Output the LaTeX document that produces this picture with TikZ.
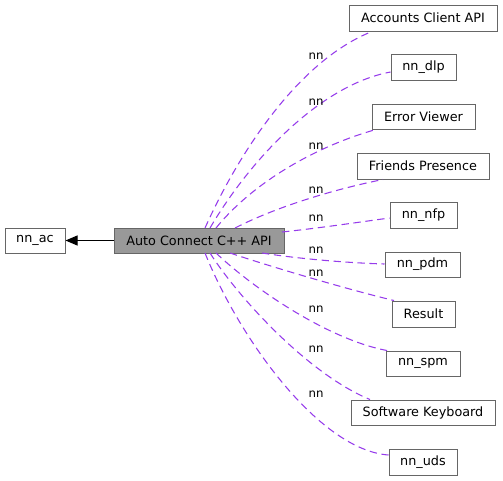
\documentclass[tikz,border=0pt]{standalone}
\usepackage{fontspec}
\setmainfont{DejaVu Sans}
\usetikzlibrary{arrows.meta}
\definecolor{edgepurple}{RGB}{150,60,235}
\definecolor{boxgray}{RGB}{153,153,153}
\definecolor{boxline}{RGB}{102,102,102}
\begin{document}
\begin{tikzpicture}[x=0.75pt,y=-0.75pt,
  box/.style={draw=boxline,line width=0.75pt,fill=white,inner sep=0pt,font=\fontsize{9.6}{11}\selectfont},
  dep/.style={draw=edgepurple,dashed,dash pattern=on 5.5pt off 3.5pt,line width=0.8pt},
  lbl/.style={font=\fontsize{8.8}{10}\selectfont,inner sep=0pt}]
\useasboundingbox (0,0) rectangle (503,480);
\node[box,minimum width=60*0.75pt,minimum height=25*0.75pt] (ac) at (35,240.5) {nn\_ac};
\node[box,fill=boxgray,minimum width=170*0.75pt,minimum height=25*0.75pt] (acc) at (199,240.5) {Auto Connect C++ API};
\node[box,minimum width=148*0.75pt,minimum height=26*0.75pt] (acl) at (423,18) {Accounts Client API};
\node[box,minimum width=65*0.75pt,minimum height=26*0.75pt] (dlp) at (423.5,67) {nn\_dlp};
\node[box,minimum width=103*0.75pt,minimum height=25*0.75pt] (err) at (423.5,116.5) {Error Viewer};
\node[box,minimum width=132*0.75pt,minimum height=26*0.75pt] (fri) at (423,166) {Friends Presence};
\node[box,minimum width=67*0.75pt,minimum height=26*0.75pt] (nfp) at (423.5,215) {nn\_nfp};
\node[box,minimum width=75*0.75pt,minimum height=25*0.75pt] (pdm) at (422.5,264.5) {nn\_pdm};
\node[box,minimum width=63*0.75pt,minimum height=26*0.75pt] (res) at (423.5,314) {Result};
\node[box,minimum width=74*0.75pt,minimum height=25*0.75pt] (spm) at (423,363.5) {nn\_spm};
\node[box,minimum width=144*0.75pt,minimum height=25*0.75pt] (swk) at (423,412.5) {Software Keyboard};
\node[box,minimum width=68*0.75pt,minimum height=26*0.75pt] (uds) at (423,462) {nn\_uds};
% inheritance arrow
\draw[line width=0.75pt,-{Triangle[length=9pt,width=7.5pt]}] (acc.west) -- (ac.east);
% dependency edges
\draw[dep] (205,228) .. controls (240,150) and (300,60) .. (acl.south west -| 372,31);
\draw[dep] (210,228) .. controls (250,160) and (320,85) .. (dlp.west |- 0,72);
\draw[dep] (216,228) .. controls (255,180) and (320,145) .. (err.south west -| 376,129);
\draw[dep] (235,228) .. controls (280,205) and (340,188) .. (fri.south west -| 383,179);
\draw[dep] (282,232) .. controls (320,228) and (360,222) .. (nfp.west |- 0,218);
\draw[dep] (262,253) .. controls (300,259) and (350,263) .. (pdm.west |- 0,264);
\draw[dep] (230,253) .. controls (275,268) and (350,290) .. (res.north west -| 394,301);
\draw[dep] (216,253) .. controls (255,290) and (330,340) .. (spm.north west -| 387,352);
\draw[dep] (210,253) .. controls (240,300) and (310,375) .. (swk.north west -| 370,400);
\draw[dep] (205,253) .. controls (240,340) and (320,450) .. (uds.west |- 0,455);
% labels
\node[lbl] (l1) at (316,56) {nn};
\node[lbl] (l2) at (316,102) {nn};
\node[lbl] (l3) at (316,146) {nn};
\node[lbl] (l4) at (316,190) {nn};
\node[lbl] (l5) at (316,218) {nn};
\node[lbl] (l6) at (316,250) {nn};
\node[lbl] (l7) at (316,273) {nn};
\node[lbl] (l8) at (316,309) {nn};
\node[lbl] (l9) at (316,349) {nn};
\node[lbl] (l10) at (316,394) {nn};
\end{tikzpicture}
\end{document}
